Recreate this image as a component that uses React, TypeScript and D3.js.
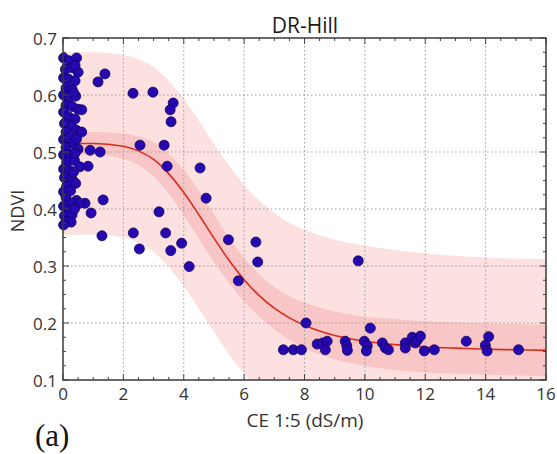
import React from "react";
import * as d3 from "d3";

// ---------- data ----------
const title = "DR-Hill";
const xLabel = "CE 1:5 (dS/m)";
const yLabel = "NDVI";
const panelLabel = "(a)";

const xTicks = [0, 2, 4, 6, 8, 10, 12, 14, 16];
const yTicks = [0.1, 0.2, 0.3, 0.4, 0.5, 0.6, 0.7];

// fitted curve and bands
const curveX = [0, 1, 2, 2.5, 3, 3.5, 4, 4.5, 5, 5.5, 6, 6.5, 7, 7.5, 8, 9, 10, 11, 12, 13, 14, 15, 16];
const fitY = [0.515, 0.515, 0.51, 0.502, 0.487, 0.462, 0.429, 0.39, 0.349, 0.31, 0.276, 0.248, 0.226, 0.209, 0.196, 0.178, 0.168, 0.162, 0.158, 0.156, 0.154, 0.153, 0.152];
const innerUpper = [0.535, 0.535, 0.532, 0.527, 0.517, 0.497, 0.469, 0.432, 0.391, 0.35, 0.314, 0.285, 0.263, 0.247, 0.236, 0.22, 0.211, 0.207, 0.203, 0.201, 0.199, 0.198, 0.197];
const innerLower = [0.495, 0.495, 0.488, 0.477, 0.457, 0.427, 0.389, 0.348, 0.307, 0.27, 0.238, 0.211, 0.189, 0.171, 0.156, 0.136, 0.125, 0.117, 0.113, 0.111, 0.109, 0.108, 0.107];
const outerUpper = [0.675, 0.675, 0.67, 0.663, 0.649, 0.625, 0.593, 0.555, 0.514, 0.476, 0.442, 0.415, 0.393, 0.376, 0.364, 0.346, 0.336, 0.328, 0.322, 0.318, 0.315, 0.313, 0.312];
const outerLower = [0.355, 0.355, 0.35, 0.341, 0.325, 0.298, 0.264, 0.225, 0.184, 0.145, 0.111, 0.083, 0.061, 0.044, 0.031, 0.012, 0.002, -0.005, -0.008, -0.01, -0.012, -0.013, -0.013];

// observations: CE (x) and NDVI (y)
const obsCE = [
  0.02, 0.2, 0.45, 0.08, 0.3, 0.5, 0.02, 0.18, 0.4, 0.1, 0.3, 0.02, 0.2, 0.42, 0.1, 0.3, 0.02, 0.5,
  0.18, 0.4, 0.05, 0.28, 0.1, 0.45, 0.02, 0.22, 0.35, 0.1, 0.5, 0.02, 0.25, 0.12, 0.38, 0.02, 0.2,
  0.05, 0.3, 0.12, 0.02, 0.25, 0.45, 0.1, 0.3, 0.02, 0.18, 0.05, 0.3, 0.12, 0.27, 0.02,
  0.62, 0.62, 0.56, 0.73, 0.55,
  0.4, 0.35, 0.45, 0.4, 0.35, 0.42, 0.38,
  1.16, 1.39, 2.32, 2.98, 3.65, 3.55, 3.58, 2.55, 3.35, 0.9, 1.23, 0.83, 3.45, 4.54, 1.33, 0.93, 3.18,
  4.74, 1.29, 2.33, 2.53, 3.4, 3.57, 3.93, 4.18, 5.48, 5.81, 6.39, 6.45,
  7.3, 7.63, 7.9, 8.05, 8.42, 8.6, 8.75, 8.69, 9.35, 9.4, 9.42, 9.78, 9.98, 10.08, 10.05, 10.18,
  10.58, 10.68, 10.78, 11.34, 11.34, 11.57, 11.67, 11.74, 11.84, 11.97, 12.3, 13.36, 14.1, 13.99,
  14.05, 15.09,
];
const obsNDVI = [
  0.665, 0.66, 0.665, 0.645, 0.648, 0.64, 0.63, 0.628, 0.625, 0.612, 0.61, 0.6, 0.595, 0.598, 0.582,
  0.58, 0.57, 0.575, 0.562, 0.558, 0.55, 0.545, 0.535, 0.538, 0.522, 0.525, 0.515, 0.508, 0.505,
  0.495, 0.495, 0.482, 0.485, 0.47, 0.468, 0.455, 0.452, 0.44, 0.43, 0.432, 0.415, 0.42, 0.41,
  0.405, 0.398, 0.388, 0.39, 0.378, 0.377, 0.372,
  0.574, 0.535, 0.474, 0.41, 0.41,
  0.652, 0.604, 0.523, 0.498, 0.465, 0.445, 0.4,
  0.623, 0.637, 0.603, 0.605, 0.586, 0.574, 0.553, 0.512, 0.512, 0.503, 0.5, 0.475, 0.475, 0.472,
  0.416, 0.393, 0.395, 0.419, 0.353, 0.358, 0.33, 0.358, 0.327, 0.34, 0.299, 0.346, 0.274, 0.342,
  0.307,
  0.153, 0.153, 0.153, 0.2, 0.163, 0.165, 0.168, 0.153, 0.168, 0.16, 0.152, 0.309, 0.168, 0.16,
  0.151, 0.191, 0.165, 0.156, 0.153, 0.165, 0.156, 0.175, 0.165, 0.17, 0.177, 0.151, 0.153, 0.168,
  0.176, 0.161, 0.151, 0.153,
];

// ---------- layout ----------
const W = 557;
const H = 454;
const left = 63;
const right = 546;
const top = 38;
const bottom = 380;
const FONT = "'Open Sans', 'DejaVu Sans', sans-serif";

export default function App() {
  const x = d3.scaleLinear().domain([0, 16]).range([left, right]);
  const y = d3.scaleLinear().domain([0.1, 0.7]).range([bottom, top]);

  const idx = curveX.map((_, i) => i);
  const area = (lo: number[], hi: number[]) =>
    d3
      .area<number>()
      .x((i) => x(curveX[i]))
      .y0((i) => y(lo[i]))
      .y1((i) => y(hi[i]))
      .curve(d3.curveMonotoneX)(idx) || "";
  const line =
    d3
      .line<number>()
      .x((i) => x(curveX[i]))
      .y((i) => y(fitY[i]))
      .curve(d3.curveMonotoneX)(idx) || "";

  const xMinor = d3.range(0, 16.001, 0.5);
  const yMinor = d3.range(0.1, 0.7001, 0.025);
  const tickColor = "#444";

  return (
    <svg
      width={W}
      height={H}
      style={{ position: "absolute", left: 0, top: 0, background: "#fff" }}
    >
      <defs>
        <clipPath id="plot">
          <rect x={left} y={top} width={right - left} height={bottom - top} />
        </clipPath>
      </defs>
      <rect x={0} y={0} width={W} height={H} fill="#fff" />
      <g clipPath="url(#plot)">
        <path d={area(outerLower, outerUpper)} fill="#fde1e1" />
        <path d={area(innerLower, innerUpper)} fill="#f8c6c6" />
      </g>
      {/* grid */}
      <g stroke="#9a9a9a" strokeWidth={1} strokeDasharray="1.5,2.5">
        {xTicks.slice(1, -1).map((t) => (
          <line key={"gx" + t} x1={x(t)} x2={x(t)} y1={top} y2={bottom} />
        ))}
        {yTicks.slice(1, -1).map((t) => (
          <line key={"gy" + t} x1={left} x2={right} y1={y(t)} y2={y(t)} />
        ))}
      </g>
      <g clipPath="url(#plot)">
        <path d={line} fill="none" stroke="#dc2b1c" strokeWidth={1.6} />
      </g>
      {/* points */}
      <g>
        {obsCE.map((c, i) => (
          <circle
            key={"p" + i}
            cx={x(c)}
            cy={y(obsNDVI[i])}
            r={5}
            fill="#2508b0"
            stroke="#13035e"
            strokeWidth={0.8}
          />
        ))}
      </g>
      {/* ticks */}
      <g stroke={tickColor} strokeWidth={1}>
        {xMinor.map((t) => {
          const major = Math.abs(t / 2 - Math.round(t / 2)) < 1e-6;
          const len = major ? 6 : 3;
          return (
            <g key={"xt" + t}>
              <line x1={x(t)} x2={x(t)} y1={bottom} y2={bottom - len} />
              <line x1={x(t)} x2={x(t)} y1={top} y2={top + len} />
            </g>
          );
        })}
        {yMinor.map((t) => {
          const major = Math.abs(t * 10 - Math.round(t * 10)) < 1e-6;
          const len = major ? 6 : 3;
          return (
            <g key={"yt" + t}>
              <line x1={left} x2={left + len} y1={y(t)} y2={y(t)} />
              <line x1={right} x2={right - len} y1={y(t)} y2={y(t)} />
            </g>
          );
        })}
      </g>
      {/* frame */}
      <rect
        x={left}
        y={top}
        width={right - left}
        height={bottom - top}
        fill="none"
        stroke="#3a3a3a"
        strokeWidth={1.5}
      />
      {/* tick labels */}
      <g fontFamily={FONT} fontSize={17} fill="#333">
        {xTicks.map((t) => (
          <text key={"xl" + t} x={x(t)} y={400} textAnchor="middle">
            {t}
          </text>
        ))}
        {yTicks.map((t) => (
          <text key={"yl" + t} x={57} y={y(t)} textAnchor="end" dominantBaseline="central">
            {d3.format(".1f")(t)}
          </text>
        ))}
      </g>
      <text x={305} y={33} textAnchor="middle" fontFamily={FONT} fontSize={21} fill="#1a1a1a">
        {title}
      </text>
      <text x={305} y={427} textAnchor="middle" fontFamily={FONT} fontSize={19} fill="#333">
        {xLabel}
      </text>
      <text
        transform={`translate(24,211) rotate(-90)`}
        textAnchor="middle"
        fontFamily={FONT}
        fontSize={18}
        fill="#333"
      >
        {yLabel}
      </text>
      <text x={35} y={446} fontFamily="'Liberation Serif', serif" fontSize={31} fill="#111">
        {panelLabel}
      </text>
    </svg>
  );
}
